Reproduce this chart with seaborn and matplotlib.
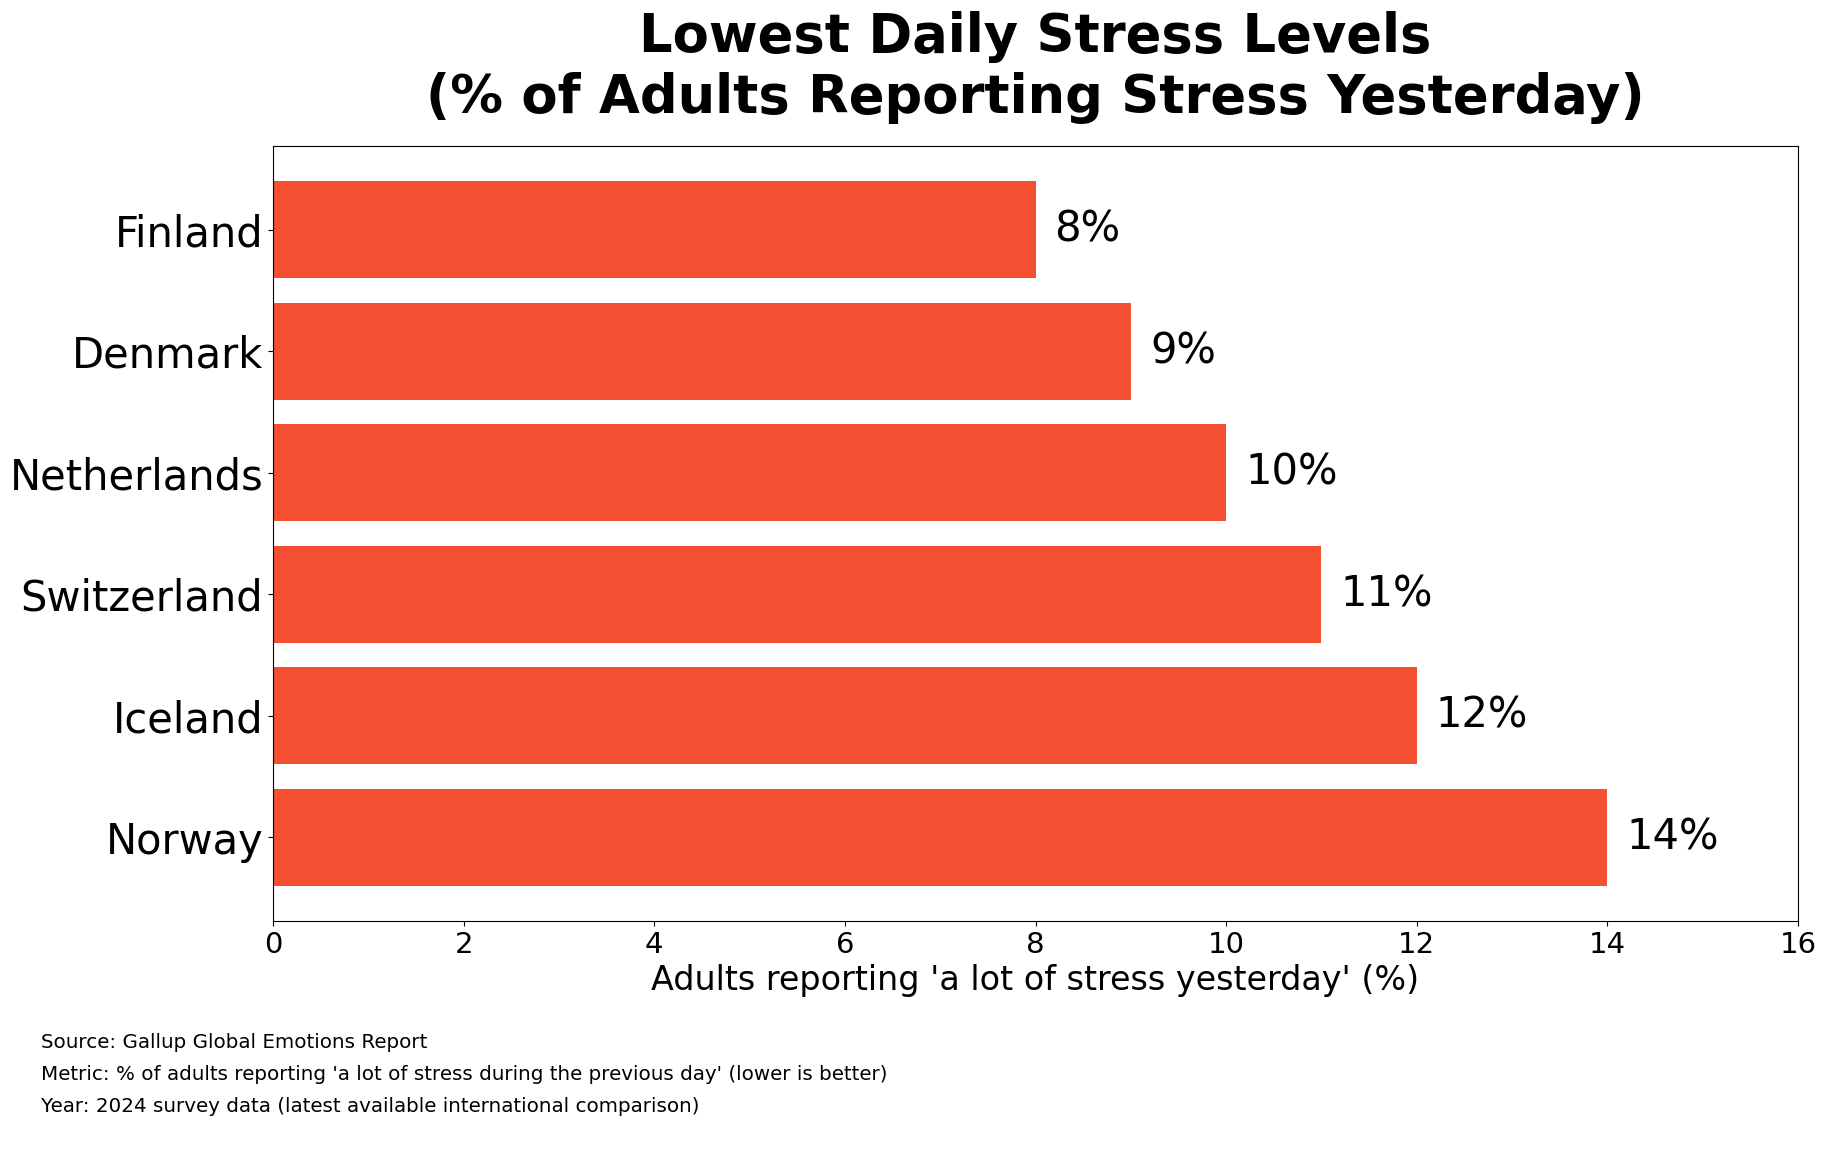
import seaborn as sns
import matplotlib.pyplot as plt
import pandas as pd

countries = ["Finland", "Denmark", "Netherlands", "Switzerland", "Iceland", "Norway"]
stress_pct = [8, 9, 10, 11, 12, 14]
footer_lines = [
    "Source: Gallup Global Emotions Report",
    "Metric: % of adults reporting 'a lot of stress during the previous day' (lower is better)",
    "Year: 2024 survey data (latest available international comparison)",
]

df = pd.DataFrame({"country": countries, "pct": stress_pct})

fig = plt.figure(figsize=(18.26, 11.51), dpi=100)
ax = fig.add_axes([273 / 1826, 1 - 921 / 1151, (1798 - 273) / 1826, (921 - 146) / 1151])

sns.barplot(data=df, x="pct", y="country", orient="h", color="#F44F30",
            saturation=1, width=0.8, ax=ax)

for i, v in enumerate(stress_pct):
    ax.text(v + 0.2, i, f"{v}%", va="center", ha="left", fontsize=30)

ax.set_xlim(0, 16)
ax.set_ylim(len(countries) - 1 + 0.69, -0.69)
ax.set_xticks(range(0, 17, 2))
ax.tick_params(axis="x", labelsize=21)
ax.tick_params(axis="y", labelsize=30)
ax.set_ylabel("")
ax.set_xlabel("Adults reporting 'a lot of stress yesterday' (%)", fontsize=24)
ax.set_title("Lowest Daily Stress Levels\n(% of Adults Reporting Stress Yesterday)",
             fontsize=38, fontweight="bold", pad=24)

for k, line in enumerate(footer_lines):
    fig.text(41 / 1826, 1 - (1048 + 32 * k) / 1151, line, fontsize=14.3, va="baseline")

fig.savefig("out.png", dpi=100)
